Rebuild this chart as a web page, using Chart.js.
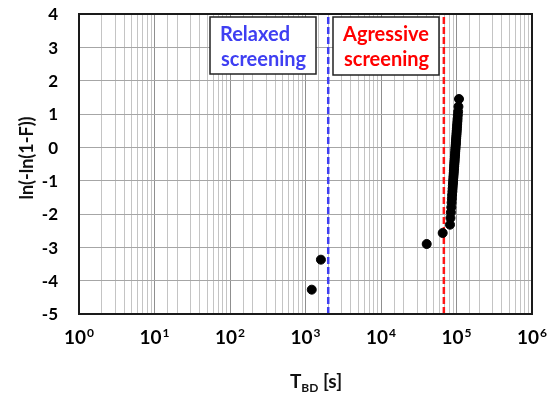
<!DOCTYPE html>
<html>
<head>
<meta charset="utf-8">
<script src="https://cdn.jsdelivr.net/npm/chart.js@4.4.0/dist/chart.umd.min.js"></script>
<style>
  body { margin: 0; background: #fff; }
  #wrap { width: 553px; height: 398px; }
</style>
</head>
<body>
<div id="wrap"><canvas id="weibull" width="553" height="398"></canvas></div>
<script>
// Breakdown times [s]
const tbdSeconds = [1210, 1600, 40300, 65600,
    82000, 83200, 84300, 85300, 86100, 86900, 87500, 88200, 88800, 89400,
    89900, 90400, 90900, 91400, 91900, 92300, 92800, 93200, 93600, 94000,
    94400, 94800, 95200, 95600, 96000, 96300, 96700, 97100, 97500, 97900,
    98200, 98600, 99000, 99400, 99900, 100300, 100700, 101200, 101700, 102200,
    102800, 103400, 104100, 105000, 106100, 107900];
// Weibull ordinate ln(-ln(1-F))
const weibullY = [-4.27, -3.37, -2.90, -2.57,
    -2.32, -2.12, -1.95, -1.80, -1.66, -1.54, -1.43, -1.33, -1.24, -1.15,
    -1.07, -0.99, -0.91, -0.84, -0.77, -0.70, -0.64, -0.57, -0.51, -0.45,
    -0.40, -0.34, -0.28, -0.23, -0.17, -0.12, -0.06, -0.01, 0.05, 0.10,
    0.15, 0.21, 0.26, 0.32, 0.38, 0.44, 0.50, 0.56, 0.63, 0.70,
    0.78, 0.86, 0.96, 1.07, 1.22, 1.45];

const xDecades = [0, 1, 2, 3, 4, 5, 6];
const yTicks = [-5, -4, -3, -2, -1, 0, 1, 2, 3, 4];
const relaxedLimit = 2000;     // blue dashed line
const aggressiveLimit = 68000; // red dashed line
const relaxedLabel = ['Relaxed', 'screening'];
const aggressiveLabel = ['Agressive', 'screening'];

const FONT = 'Lato, "Open Sans", "Liberation Sans", sans-serif';
const yMin = yTicks[0], yMax = yTicks[yTicks.length - 1];

const points = tbdSeconds.map((t, i) => ({ x: t, y: weibullY[i] }));

function isDecade(v) {
    const l = Math.log10(v);
    return Math.abs(l - Math.round(l)) < 1e-9;
}

const decorPlugin = {
    id: 'decor',
    afterDraw(chart) {
        const ctx = chart.ctx;
        const area = chart.chartArea;
        const xs = chart.scales.x;
        const ys = chart.scales.y;

        ctx.save();
        // plot frame
        ctx.strokeStyle = '#1a1a1a';
        ctx.lineWidth = 2;
        ctx.strokeRect(area.left, area.top, area.right - area.left, area.bottom - area.top);

        // y tick labels
        ctx.fillStyle = '#000';
        ctx.font = 'bold 17px ' + FONT;
        ctx.textAlign = 'right';
        ctx.textBaseline = 'middle';
        yTicks.forEach(v => {
            ctx.fillText(String(v), 58, ys.getPixelForValue(v) + 1);
        });

        // x tick labels 10^n
        ctx.textBaseline = 'alphabetic';
        ctx.textAlign = 'left';
        xDecades.forEach(p => {
            const px = xs.getPixelForValue(Math.pow(10, p));
            ctx.font = 'bold 19px ' + FONT;
            const wBase = ctx.measureText('10').width;
            ctx.font = 'bold 12px ' + FONT;
            const wSup = ctx.measureText(String(p)).width;
            const x0 = px - (wBase + wSup + 1) / 2;
            ctx.font = 'bold 19px ' + FONT;
            ctx.fillText('10', x0, 344);
            ctx.font = 'bold 12px ' + FONT;
            ctx.fillText(String(p), x0 + wBase + 1, 337);
        });

        // x title T_BD [s]
        ctx.font = 'bold 19px ' + FONT;
        const wT = ctx.measureText('T').width;
        const wS = ctx.measureText(' [s]').width;
        ctx.font = 'bold 12px ' + FONT;
        const wBD = ctx.measureText('BD').width;
        const tx = 316 - (wT + wBD + wS) / 2;
        ctx.fillStyle = '#111';
        ctx.font = 'bold 19px ' + FONT;
        ctx.fillText('T', tx, 388);
        ctx.font = 'bold 12px ' + FONT;
        ctx.fillText('BD', tx + wT, 392);
        ctx.font = 'bold 19px ' + FONT;
        ctx.fillText(' [s]', tx + wT + wBD, 388);

        // y title
        ctx.save();
        ctx.translate(27, 158);
        ctx.rotate(-Math.PI / 2);
        ctx.textAlign = 'center';
        ctx.textBaseline = 'middle';
        ctx.font = 'bold 18px ' + FONT;
        ctx.fillText('ln(-ln(1-F))', 0, 0);
        ctx.restore();

        // text boxes (left aligned text, like the original)
        function box(x, y, w, h, lines, color) {
            ctx.fillStyle = '#fff';
            ctx.fillRect(x, y, w, h);
            ctx.strokeStyle = '#222';
            ctx.lineWidth = 1.5;
            ctx.strokeRect(x, y, w, h);
            ctx.fillStyle = color;
            ctx.font = 'bold 20px ' + FONT;
            ctx.textAlign = 'left';
            ctx.textBaseline = 'middle';
            ctx.fillText(lines[0], x + 10, y + 18);
            ctx.fillText(lines[1], x + 11, y + 43);
        }
        box(210, 17, 106, 57, relaxedLabel, '#3f3ff2');
        box(333, 17, 106, 58, aggressiveLabel, '#ff0000');
        ctx.restore();
    }
};

const chart = new Chart(document.getElementById('weibull'), {
    type: 'scatter',
    data: {
        datasets: [
            {
                label: 'data',
                data: points,
                backgroundColor: '#000',
                borderColor: '#000',
                pointRadius: 4.5,
                pointHoverRadius: 4.5
            },
            {
                label: 'relaxed',
                type: 'line',
                data: [{ x: relaxedLimit, y: yMin }, { x: relaxedLimit, y: yMax }],
                borderColor: '#3f3ff2',
                borderWidth: 2.5,
                borderDash: [7, 3],
                pointRadius: 0,
                fill: false
            },
            {
                label: 'aggressive',
                type: 'line',
                data: [{ x: aggressiveLimit, y: yMin }, { x: aggressiveLimit, y: yMax }],
                borderColor: '#ff1414',
                borderWidth: 2.5,
                borderDash: [7, 3],
                pointRadius: 0,
                fill: false
            }
        ]
    },
    options: {
        responsive: false,
        animation: false,
        devicePixelRatio: 1,
        layout: { padding: { top: 14, right: 21, left: 0, bottom: 0 } },
        plugins: {
            legend: { display: false },
            tooltip: { enabled: false }
        },
        scales: {
            x: {
                type: 'logarithmic',
                min: 1,
                max: 1e6,
                ticks: { display: false },
                grid: {
                    drawTicks: false,
                    color: ctx => (ctx.tick && isDecade(ctx.tick.value)) ? '#8f8f8f' : '#c4c4c4',
                    lineWidth: 1
                },
                border: { display: false },
                afterFit: s => { s.height = 84; }
            },
            y: {
                min: yMin,
                max: yMax,
                ticks: { display: false, stepSize: 1 },
                grid: { drawTicks: false, color: '#a6a6a6', lineWidth: 1 },
                border: { display: false },
                afterFit: s => { s.width = 79; }
            }
        }
    },
    plugins: [decorPlugin]
});
</script>
</body>
</html>
